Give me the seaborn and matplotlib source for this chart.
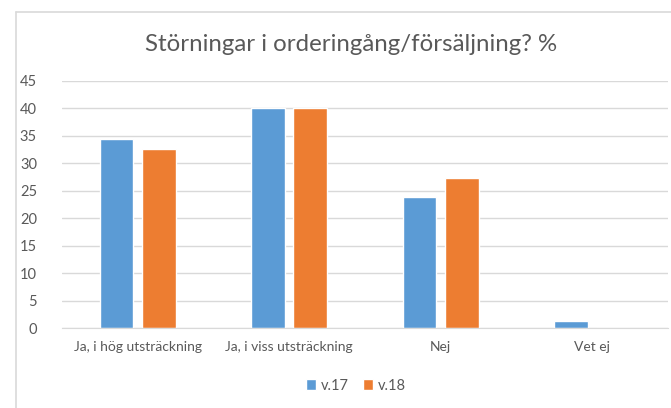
import matplotlib
matplotlib.use("Agg")
import matplotlib.pyplot as plt
import pandas as pd
import seaborn as sns
from matplotlib.lines import Line2D

# data
categories = ['Ja, i hög utsträckning', 'Ja, i viss utsträckning', 'Nej', 'Vet ej']
v17 = [34.4, 40.0, 23.9, 1.3]
v18 = [32.6, 40.0, 27.3, 0.0]
series = ['v.17', 'v.18']
colors = ['#5B9BD5', '#ED7D31']

df = pd.DataFrame({
    'Kategori': categories * 2,
    'Procent': v17 + v18,
    'Vecka': [series[0]] * 4 + [series[1]] * 4,
})

sns.set_style("white")
plt.rcParams['font.family'] = ['Lato', 'DejaVu Sans']
txt = '#595959'
grid = '#D9D9D9'

fig = plt.figure(figsize=(6.71, 4.08), dpi=100)
ax = fig.add_axes([0.0924, 0.196, 0.903, 0.6055])

sns.barplot(data=df, x='Kategori', y='Procent', hue='Vecka', order=categories,
            hue_order=series, palette=colors, width=0.56, gap=0.2,
            saturation=1, ax=ax, legend=True)

ax.set_ylim(0, 45)
ax.set_yticks(range(0, 50, 5))
ax.set_xlim(-0.5, 3.5)
ax.set_xlabel('')
ax.set_ylabel('')
for s in ['top', 'right', 'left']:
    ax.spines[s].set_visible(False)
ax.spines['bottom'].set_color(grid)
ax.yaxis.grid(True, color=grid, linewidth=1)
ax.set_axisbelow(True)
ax.tick_params(axis='y', length=0, colors=txt, labelsize=10.5, pad=18)
ax.tick_params(axis='x', length=0, colors=txt, labelsize=10, pad=9)

fig.text(0.523, 0.89, 'Störningar i orderingång/försäljning? %', ha='center',
         va='center', fontsize=17.3, color=txt)

ax.legend(loc='center', bbox_to_anchor=(0.485, -0.233), ncol=2, frameon=False,
          handlelength=0.7, handleheight=0.7, handletextpad=0.3, columnspacing=1.0,
          labelcolor=txt, fontsize=10.5)

# chart border (left and top edges visible)
fig.add_artist(Line2D([0.0245, 0.0245], [0, 0.971], color=grid, linewidth=1.2))
fig.add_artist(Line2D([0.0245, 1.0], [0.971, 0.971], color=grid, linewidth=1.2))

fig.savefig('out.png', dpi=100)
